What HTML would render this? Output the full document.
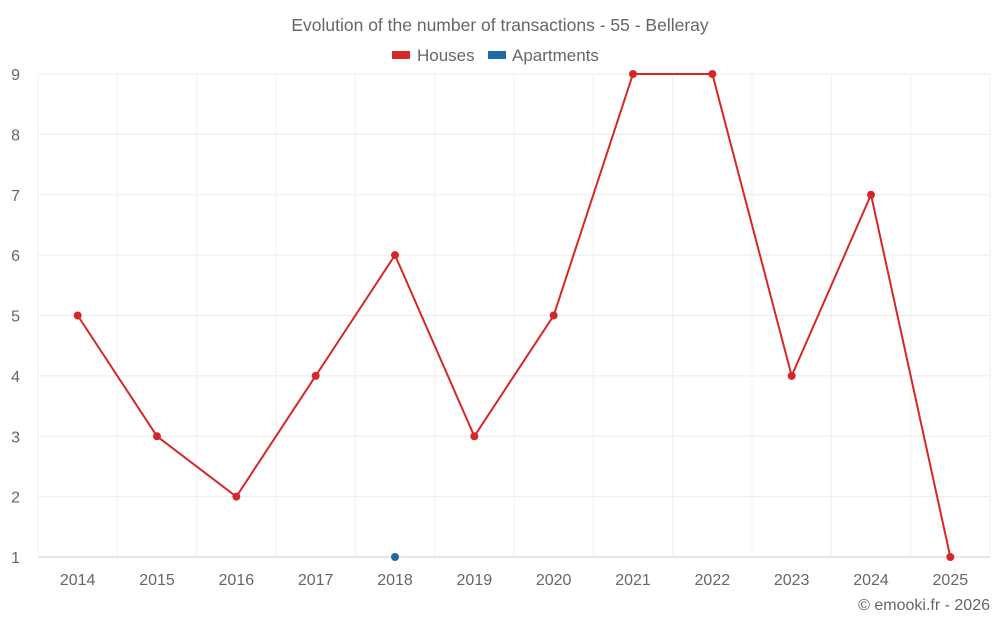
<!DOCTYPE html>
<html><head><meta charset="utf-8"><style>
body{margin:0;background:#fff;font-family:"Liberation Sans",sans-serif}
svg text{font-family:"Liberation Sans",sans-serif;fill:#666}
</style></head><body>
<svg id="chart" width="1000" height="625">
<text x="500" y="31" text-anchor="middle" font-size="17.5">Evolution of the number of transactions - 55 - Belleray</text>
<g>
<g><rect x="392" y="51" width="18" height="8" fill="#d62728"/><text x="417" y="61" font-size="17">Houses</text></g>
<g><rect x="488" y="51" width="18" height="8" fill="#1f6aa5"/><text x="512" y="61" font-size="17">Apartments</text></g>
</g>
<g id="grid"></g><g id="axes"></g><g id="marks"></g>
<text x="990" y="610" text-anchor="end" font-size="16">© emooki.fr - 2026</text>
</svg>
<script>
const years=["2014","2015","2016","2017","2018","2019","2020","2021","2022","2023","2024","2025"];
const houses=[5,3,2,4,6,3,5,9,9,4,7,1];
const apartments=[null,null,null,null,1,null,null,null,null,null,null,null];
const yTicks=[1,2,3,4,5,6,7,8,9];
const L=38,R=990,T=74,B=557,yMin=1,yMax=9;
const bw=(R-L)/years.length;
const x=i=>L+bw*(i+0.5);
const y=v=>B-(v-yMin)/(yMax-yMin)*(B-T);
const NS="http://www.w3.org/2000/svg";
function mk(tag,attrs,parent){const e=document.createElementNS(NS,tag);for(const k in attrs)e.setAttribute(k,attrs[k]);document.getElementById(parent).appendChild(e);return e;}
yTicks.forEach(t=>{
 const g=mk("line",{x1:L,x2:R,y1:y(t),y2:y(t),stroke:t===yMin?"#ccc":"#ebebeb"},"grid");
 
 
 const lb=mk("text",{x:20,y:y(t)+6,"text-anchor":"end","font-size":"16"},"axes");lb.textContent=t;
 
 
});
for(let i=0;i<=years.length;i++){
 const g=mk("line",{x1:L+bw*i,x2:L+bw*i,y1:T,y2:B,stroke:"#f0f0f0"},"grid");
 
 
}
years.forEach((yr,i)=>{
 const lb=mk("text",{x:x(i),y:585,"text-anchor":"middle","font-size":"16"},"axes");lb.textContent=yr;
 
 
});
const pts=houses.map((v,i)=>x(i)+","+y(v)).join(" ");
const pl=mk("polyline",{points:pts,fill:"none",stroke:"#d62728","stroke-width":"2"},"marks");


houses.forEach((v,i)=>{
 const c=mk("circle",{cx:x(i),cy:y(v),r:4,fill:"#d62728"},"marks");
 
 
});
apartments.forEach((v,i)=>{
 if(v===null)return;
 const c=mk("circle",{cx:x(i),cy:y(v),r:4,fill:"#1f6aa5"},"marks");
 
 
});
</script>
</body></html>
